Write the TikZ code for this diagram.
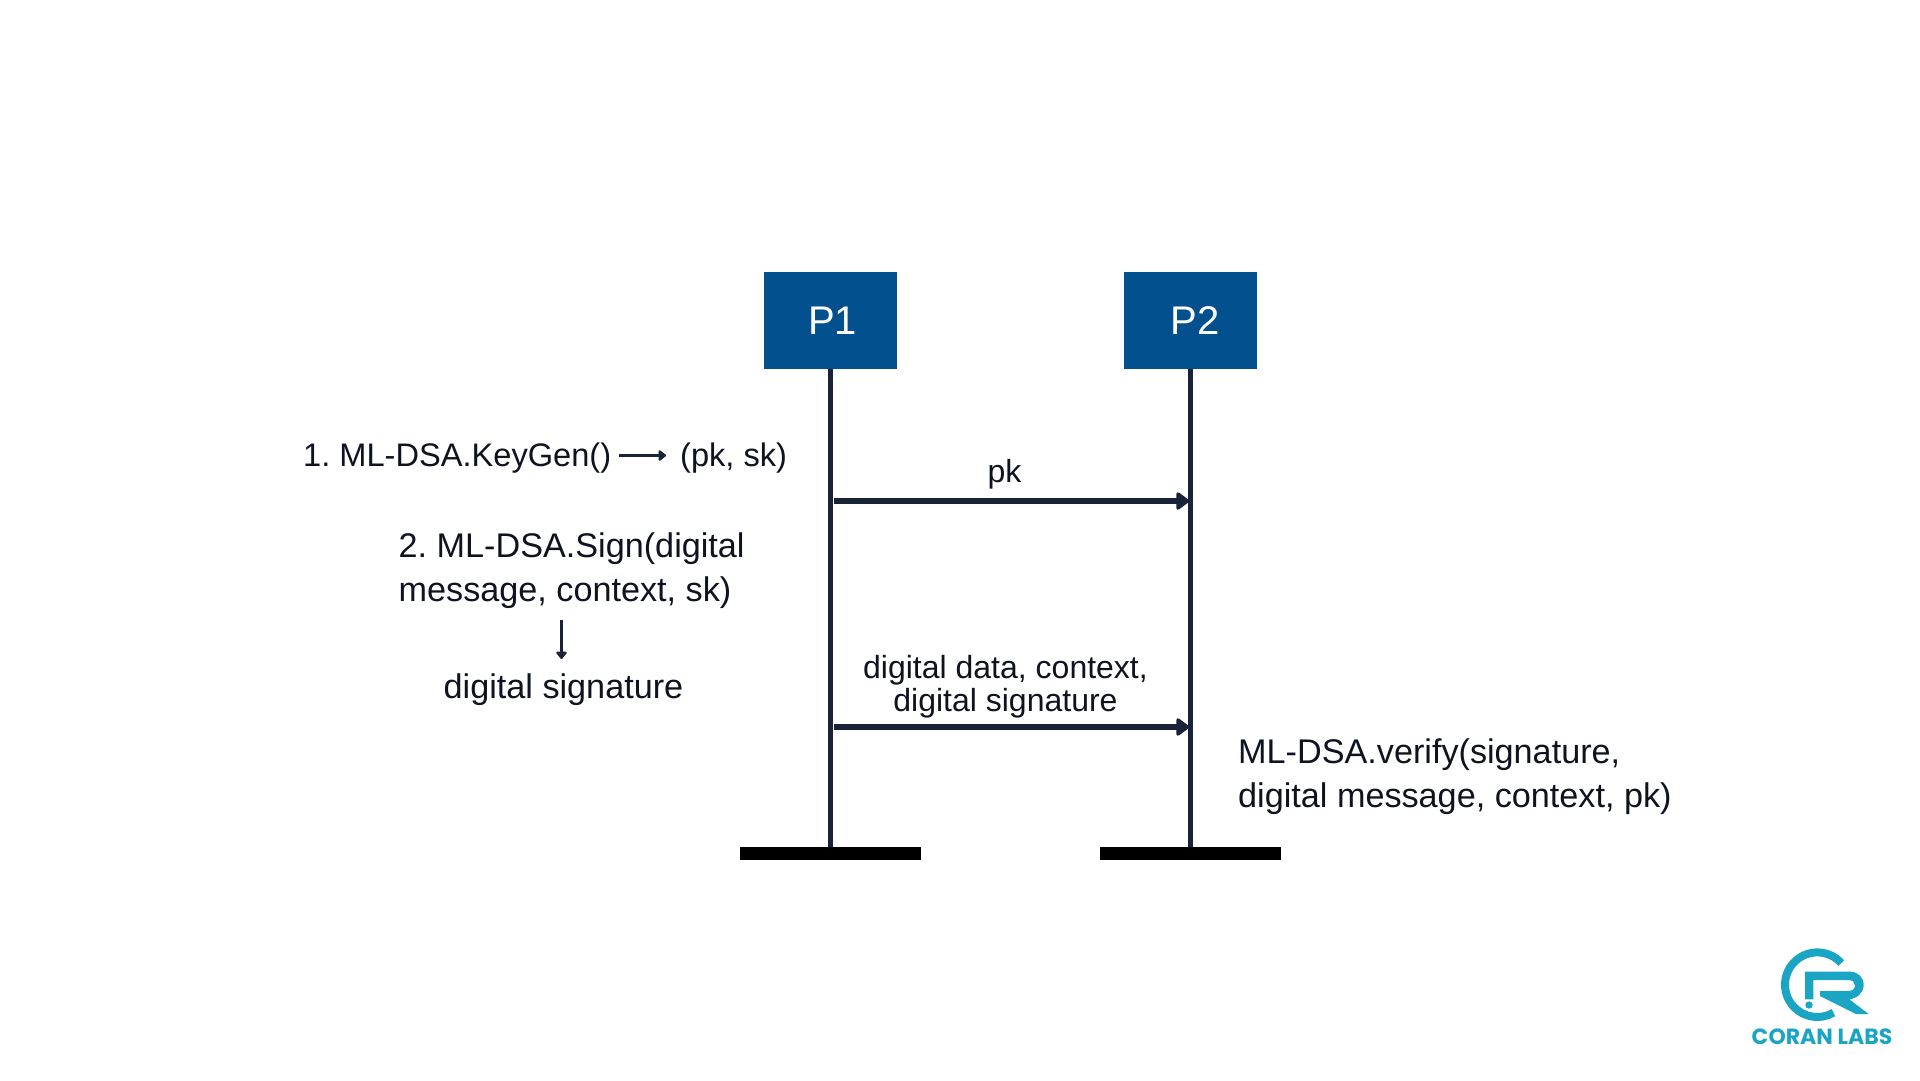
\documentclass[tikz,border=0pt]{standalone}
\usepackage{fontspec}
\setmainfont{Liberation Sans}
\newfontfamily\logofont{Poppins}
\usetikzlibrary{arrows.meta}
\definecolor{boxblue}{HTML}{03508F}
\definecolor{inkline}{HTML}{1A2238}
\definecolor{inktext}{HTML}{0F1320}
\definecolor{logoblue}{HTML}{1AA5C4}
\tikzset{
  actor/.style={fill=boxblue,draw=none,text=white,minimum width=133pt,minimum height=97pt,inner sep=0pt,font=\fontsize{40}{40}\selectfont},
  groundbar/.style={fill=black,draw=none,minimum width=181pt,minimum height=13pt,inner sep=0pt},
  lifeline/.style={draw=inkline,line width=5.5pt},
  msg/.style={draw=inkline,line width=5.5pt,-{Triangle[length=14pt,width=20pt,round]}},
  thin arrow/.style={draw=inkline,line width=3pt,-{Triangle[length=8pt,width=12pt,round]}},
  bigtext/.style={text=inktext,inner sep=0pt,font=\frenchspacing\fontsize{34.2}{44}\selectfont,align=left},
  keytext/.style={text=inktext,inner sep=0pt,font=\frenchspacing\fontsize{32.6}{44}\selectfont},
  smalltext/.style={text=inktext,inner sep=0pt,font=\frenchspacing\fontsize{32}{33}\selectfont,align=center},
}
\begin{document}
\begin{tikzpicture}[x=1pt,y=-1pt]
\useasboundingbox (0,0) rectangle (1920,1080);
\node[actor] (p1) at (830.5,320.5) {\hspace*{4pt}P1};
\node[actor] (p2) at (1190.5,320.5) {\hspace*{9pt}P2};
\node[groundbar] (b1) at (830.5,853.5) {};
\node[groundbar] (b2) at (1190.5,853.5) {};
\draw[lifeline] (p1.south) -- (b1.north);
\draw[lifeline] (p2.south) -- (b2.north);
\coordinate (a1s) at (834,501);
\coordinate (a1e) at (1189,501);
\coordinate (a2s) at (834,727);
\coordinate (a2e) at (1189,727);
\draw[msg] (a1s) -- (a1e);
\draw[msg] (a2s) -- (a2e);
\node[smalltext] (pk) at (1004.5,474.5) {pk};
\node[smalltext] (dd) at (1005.5,686.5) {digital data, context,\\digital signature};
\node[keytext,anchor=base west] (kg) at (303,466) {1. ML-DSA.KeyGen()};
\node[keytext,anchor=base west] (pksk) at (680,466) {(pk, sk)};
\coordinate (k1) at (619,455.5);
\coordinate (k2) at (666,455.5);
\draw[thin arrow] (k1) -- (k2);
\node[bigtext,anchor=west] (sg) at (398.5,570.5) {2. ML-DSA.Sign(digital\\message, context, sk)};
\coordinate (s1) at (561.5,620);
\coordinate (s2) at (561.5,659);
\draw[thin arrow] (s1) -- (s2);
\node[bigtext,anchor=base] (ds) at (563.5,698) {digital signature};
\node[bigtext,anchor=west] (vf) at (1238,776.5) {ML-DSA.verify(signature,\\digital message, context, pk)};
% logo
\coordinate (lc) at (1817.3,984.7);
\draw[logoblue,line width=8pt] (lc) ++(42:32.3pt) arc[start angle=42,end angle=300,radius=32.3pt];
\begin{scope}[shift={(1770,940)},x=0.3333pt,y=-0.3333pt]
  \fill[logoblue] (105,95) -- (240,95) .. controls (264,95) and (281,112) .. (281,135)
    .. controls (281,158) and (262,175) .. (238,178) -- (296,222) -- (258,222) -- (150,168) -- (150,153)
    -- (235,153) .. controls (247,153) and (255,146) .. (255,136) .. controls (255,127) and (247,120) .. (235,120)
    -- (130,120) -- (130,178) -- (105,178) -- cycle;
  \fill[logoblue] (117,195) circle[radius=3.7pt];
\end{scope}
\node[text=logoblue,inner sep=0pt,font=\logofont\bfseries\fontsize{22}{22}\selectfont] (logo) at (1822,1037) {CORAN LABS};
\end{tikzpicture}
\end{document}
